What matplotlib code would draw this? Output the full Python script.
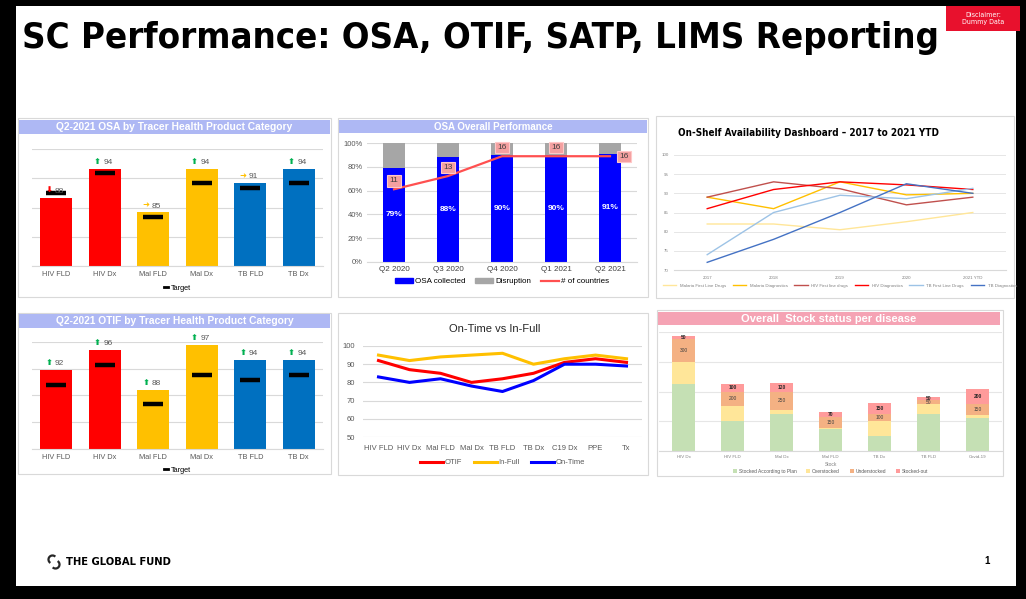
import matplotlib
matplotlib.use('Agg')
import matplotlib.pyplot as plt
from matplotlib import font_manager
from matplotlib.patches import Rectangle, Patch, Arc
from matplotlib.lines import Line2D
import numpy as np

plt.rcParams['font.family'] = ['Liberation Sans', 'DejaVu Sans']

W, H = 1026, 599

# ---- data ----
tracer_cats = ['HIV FLD', 'HIV Dx', 'Mal FLD', 'Mal Dx', 'TB FLD', 'TB Dx']
tracer_colors = ['#FF0000', '#FF0000', '#FFC000', '#FFC000', '#0070C0', '#0070C0']
osa_values = [88, 94, 85, 94, 91, 94]
osa_targets = [89, 93, 84, 91, 90, 91]
osa_trend = ['down', 'up', 'flat', 'up', 'flat', 'up']
otif_values = [92, 96, 88, 97, 94, 94]
otif_targets = [89, 93, 85, 91, 90, 91]
otif_trend = ['up', 'up', 'up', 'up', 'up', 'up']

quarters = ['Q2 2020', 'Q3 2020', 'Q4 2020', 'Q1 2021', 'Q2 2021']
osa_collected = [79, 88, 90, 90, 91]
n_countries = [11, 13, 16, 16, 16]

years = ['2017', '2018', '2019', '2020', '2021 YTD']
mal_fld = [82, 82, 80.5, 82.6, 85]
mal_dx = [89, 86, 93, 89.6, 90]
hiv_fld = [89, 93, 91.2, 87, 89]
hiv_dx = [86, 91, 93, 92.2, 91]
tb_fld = [74, 85, 89.5, 88.6, 91.3]
tb_dx = [72, 78, 85, 92.5, 90]
shelf_names = ['Malaria First Line Drugs', 'Malaria Diagnostics', 'HIV First line drugs',
               'HIV Diagnostics', 'TB First Line Drugs', 'TB Diagnostics']
shelf_colors = ['#FFE699', '#FFC000', '#C0504D', '#FF0000', '#9DC3E6', '#4472C4']

otif_cats = ['HIV FLD', 'HIV Dx', 'Mal FLD', 'Mal Dx', 'TB FLD', 'TB Dx', 'C19 Dx', 'PPE', 'Tx']
otif_line = [92, 87, 85, 80, 82, 85, 91, 93, 91]
infull_line = [95, 92, 94, 95, 96, 90, 93, 95, 93]
ontime_line = [83, 80, 82, 78, 75, 81, 90, 90, 89]

stock_cats = ['HIV Dx', 'HIV FLD', 'Mal Dx', 'Mal FLD', 'TB Dx', 'TB FLD', 'Covid-19']
stock_plan = [900, 400, 500, 300, 200, 500, 450]
stock_over = [300, 200, 50, 10, 200, 130, 30]
stock_under = [300, 200, 250, 150, 100, 50, 150]
stock_out = [50, 100, 120, 70, 150, 50, 200]

# condensed bold face for the headline, if one is installed
installed = {(f.name, f.stretch) for f in font_manager.fontManager.ttflist}
if ('DejaVu Sans', 'condensed') in installed:
    narrow = dict(family='DejaVu Sans', fontstretch='condensed')
else:
    narrow = dict(family=['Liberation Sans', 'DejaVu Sans'])


def rect(x0, y0, x1, y1):
    # pixel box -> figure fraction [l, b, w, h]
    return [x0 / W, 1 - y1 / H, (x1 - x0) / W, (y1 - y0) / H]


def fig_box(fig, x0, y0, x1, y1, fc, ec='none', lw=0, z=-1):
    r = Rectangle((x0 / W, 1 - y1 / H), (x1 - x0) / W, (y1 - y0) / H,
                  transform=fig.transFigure, facecolor=fc, edgecolor=ec, lw=lw, zorder=z)
    fig.add_artist(r)


def title_bar(fig, x0, y0, x1, y1, text, color, size=7.4):
    fig_box(fig, x0, y0, x1, y1, color, z=2)
    fig.text((x0 + x1) / 2 / W, 1 - (y0 + y1) / 2 / H, text, ha='center', va='center',
             color='white', fontsize=size, fontweight='bold', zorder=3)


fig = plt.figure(figsize=(W / 100, H / 100), dpi=100, facecolor='black')
fig_box(fig, 16, 6, 1016, 586, 'white', z=-3)

# title
fig.text(22 / W, 1 - 38 / H, 'SC Performance: OSA, OTIF, SATP, LIMS Reporting',
         fontweight='bold', fontsize=26.2, va='center', ha='left', **narrow)
fig_box(fig, 946, 6, 1020, 31, '#E8112D', z=2)
fig.text(983 / W, 1 - 18.5 / H, 'Disclaimer:\nDummy Data', color='white', fontsize=5,
         ha='center', va='center', linespacing=1.2, zorder=3, **narrow)

# panel frames
for b in [(18, 118, 331, 297), (338, 118, 648, 297), (656, 116, 1014, 298),
          (18, 313, 331, 474), (338, 313, 648, 475), (657, 310, 1003, 476)]:
    fig_box(fig, *b, 'white', ec='#D9D9D9', lw=0.8, z=-2)

arrow_sym = {'up': ('\u2B06', '#00B050'), 'down': ('\u2B07', '#FF0000'),
             'flat': ('\u279C', '#FFC000')}


def tracer_panel(ax, values, targets, trend, ylim):
    x = np.arange(len(tracer_cats))
    ax.bar(x, values, width=0.66, color=tracer_colors, zorder=2)
    ax.hlines(targets, x - 0.21, x + 0.21, color='black', lw=3.2, zorder=3)
    ax.set_xlim(-0.5, len(x) - 0.5)
    ax.set_ylim(*ylim)
    ax.set_yticks(np.linspace(ylim[0], ylim[1], 5))
    ax.set_yticklabels([])
    ax.tick_params(length=0)
    ax.grid(axis='y', color='#D9D9D9', lw=0.8)
    ax.set_axisbelow(True)
    for s in ['top', 'right', 'left']:
        ax.spines[s].set_visible(False)
    ax.spines['bottom'].set_color('#D9D9D9')
    ax.set_xticks(x, tracer_cats, fontsize=5.3, color='#595959')
    ax.patch.set_alpha(0)
    for xi, v, t in zip(x, values, trend):
        sym, col = arrow_sym[t]
        ax.annotate(sym, (xi - 0.15, v), xytext=(0, 2), textcoords='offset points',
                    ha='center', va='bottom', color=col, fontsize=6,
                    family='DejaVu Sans', fontweight='bold')
        ax.annotate(str(v), (xi + 0.07, v), xytext=(0, 2), textcoords='offset points',
                    ha='center', va='bottom', color='#595959', fontsize=6)
    ax.legend(handles=[Line2D([], [], color='black', lw=2)], labels=['Target'],
              loc='upper center', bbox_to_anchor=(0.5, -0.13), frameon=False,
              fontsize=5.3, handlelength=0.5, handletextpad=0.3, borderpad=0)


# top-left: OSA by tracer
title_bar(fig, 19, 120, 330, 134, 'Q2-2021 OSA by Tracer Health Product Category', '#AEB8F4')
ax1 = fig.add_axes(rect(32, 149, 323, 266))
tracer_panel(ax1, osa_values, osa_targets, osa_trend, (74, 98))

# bottom-left: OTIF by tracer
title_bar(fig, 19, 314, 330, 328, 'Q2-2021 OTIF by Tracer Health Product Category', '#AEB8F4')
ax4 = fig.add_axes(rect(32, 342, 323, 449))
tracer_panel(ax4, otif_values, otif_targets, otif_trend, (76, 97.6))

# top-middle: OSA overall
title_bar(fig, 339, 120, 647, 133, 'OSA Overall Performance', '#AEB8F4', size=7)
ax2 = fig.add_axes(rect(367, 143, 637, 262))
xq = np.arange(len(quarters))
disruption = [100 - v for v in osa_collected]
ax2.bar(xq, osa_collected, width=0.4, color='#0000FF', zorder=2, label='OSA collected')
ax2.bar(xq, disruption, bottom=osa_collected, width=0.4, color='#A6A6A6', zorder=2,
        label='Disruption')
for xi, v in zip(xq, osa_collected):
    ax2.text(xi, v / 2, f'{v}%', ha='center', va='center', color='white', fontsize=6,
             fontweight='bold', zorder=3)
ax2.set_ylim(0, 100)
ax2.set_xlim(-0.5, len(xq) - 0.5)
ax2.set_yticks(range(0, 101, 20), [f'{v}%' for v in range(0, 101, 20)], fontsize=5.5,
               color='#595959')
ax2.set_xticks(xq, quarters, fontsize=5.8, color='#404040')
ax2.tick_params(length=0, pad=3)
ax2.grid(axis='y', color='#D9D9D9', lw=0.8)
ax2.set_axisbelow(True)
for s in ['top', 'right', 'left']:
    ax2.spines[s].set_visible(False)
ax2.spines['bottom'].set_color('#D9D9D9')
ax2.patch.set_alpha(0)
ax2b = ax2.twinx()
ax2b.plot(xq, n_countries, color='#FF5050', lw=1.6, zorder=4)
ax2b.set_ylim(0, 18)
ax2b.set_yticks([])
for s in ax2b.spines.values():
    s.set_visible(False)
for i, (xi, v) in enumerate(zip(xq, n_countries)):
    off = (10, 0) if i == len(xq) - 1 else (0, 6)
    ax2b.annotate(str(v), (xi, v), xytext=off, textcoords='offset points', ha='center',
                  va='center', fontsize=6, color='#404040', zorder=5,
                  bbox=dict(boxstyle='square,pad=0.25', fc='#F4A0A0', ec='#FFC8C8', lw=0.8))
ax2.legend(handles=[Patch(color='#0000FF'), Patch(color='#A6A6A6'),
                    Line2D([], [], color='#FF5050', lw=1.6)],
           labels=['OSA collected', 'Disruption', '# of countries'], ncol=3,
           loc='upper center', bbox_to_anchor=(0.5, -0.1), frameon=False, fontsize=5.8,
           handlelength=2.2, handleheight=0.6, handletextpad=0.3, columnspacing=1.2,
           borderpad=0)

# top-right: on-shelf availability
fig.text(678 / W, 1 - 133 / H, 'On-Shelf Availability Dashboard \u2013 2017 to 2021 YTD',
         fontsize=7.1, fontweight='bold', va='center', ha='left', **narrow)
ax3 = fig.add_axes(rect(674, 155, 1006, 270))
xy = np.arange(len(years))
for series, name, col in zip([mal_fld, mal_dx, hiv_fld, hiv_dx, tb_fld, tb_dx],
                             shelf_names, shelf_colors):
    ax3.plot(xy, series, color=col, lw=1.0, label=name)
ax3.set_ylim(70, 100)
ax3.set_xlim(-0.5, len(xy) - 0.5)
ax3.set_yticks(range(70, 101, 5), [str(v) for v in range(70, 101, 5)], fontsize=3.2,
               color='#808080')
ax3.set_xticks(xy, years, fontsize=3.2, color='#808080')
ax3.tick_params(length=0, pad=4)
ax3.grid(axis='y', color='#E6E6E6', lw=0.7)
ax3.set_axisbelow(True)
for s in ['top', 'right', 'left']:
    ax3.spines[s].set_visible(False)
ax3.spines['bottom'].set_color('#D9D9D9')
ax3.patch.set_alpha(0)
ax3.legend(loc='upper center', bbox_to_anchor=(0.5, -0.1), ncol=6, frameon=False,
           fontsize=3.2, handlelength=3, columnspacing=1.5, labelcolor='#808080',
           borderpad=0)

# bottom-middle: on-time vs in-full
fig.text(495 / W, 1 - 329 / H, 'On-Time vs In-Full', fontsize=8, ha='center', va='center',
         color='#262626')
ax5 = fig.add_axes(rect(363, 346, 642, 437))
xo = np.arange(len(otif_cats))
ax5.plot(xo, otif_line, color='#FF0000', lw=2.2, label='OTIF')
ax5.plot(xo, infull_line, color='#FFC000', lw=2.2, label='In-Full')
ax5.plot(xo, ontime_line, color='#0000FF', lw=2.2, label='On-Time')
ax5.set_ylim(50, 100)
ax5.set_xlim(-0.5, len(xo) - 0.5)
ax5.set_yticks(range(50, 101, 10), [str(v) for v in range(50, 101, 10)], fontsize=5.5,
               color='#595959')
ax5.set_xticks(xo, otif_cats, fontsize=5.5, color='#595959')
ax5.tick_params(length=0, pad=6)
ax5.grid(axis='y', color='#D9D9D9', lw=0.8)
ax5.set_axisbelow(True)
for s in ['top', 'right', 'left', 'bottom']:
    ax5.spines[s].set_visible(False)
ax5.patch.set_alpha(0)
ax5.legend(loc='upper center', bbox_to_anchor=(0.5, -0.2), ncol=3, frameon=False,
           fontsize=5.5, handlelength=3, columnspacing=1.5, labelcolor='#595959',
           handletextpad=0.2, borderpad=0)

# bottom-right: stock status
fig_box(fig, 658, 312, 1000, 325, '#F5A3B4', z=2)
fig.text(829 / W, 1 - 318.5 / H, 'Overall  Stock status per disease', color='white',
         fontsize=8, fontweight='bold', ha='center', va='center', zorder=3)
ax6 = fig.add_axes(rect(659, 332, 1002, 451))
xs = np.arange(len(stock_cats))
b1 = np.array(stock_plan)
b2 = b1 + np.array(stock_over)
b3 = b2 + np.array(stock_under)
ax6.bar(xs, stock_plan, width=0.45, color='#C5E0B4', label='Stocked According to Plan',
        zorder=2)
ax6.bar(xs, stock_over, bottom=b1, width=0.45, color='#FFE699', label='Overstocked', zorder=2)
ax6.bar(xs, stock_under, bottom=b2, width=0.45, color='#F4B183', label='Understocked',
        zorder=2)
ax6.bar(xs, stock_out, bottom=b3, width=0.45, color='#FF9B9B', label='Stocked-out', zorder=2)
for xi, u, o, base2, base3 in zip(xs, stock_under, stock_out, b2, b3):
    ax6.text(xi, base2 + u / 2, str(u), ha='center', va='center', fontsize=3.5,
             color='#404040', zorder=3)
    ax6.text(xi, base3 + o / 2, str(o), ha='center', va='center', fontsize=3.5,
             color='#262626', fontweight='bold', zorder=3)
ax6.set_ylim(0, 1600)
ax6.set_xlim(-0.5, len(xs) - 0.5)
ax6.set_yticks(range(0, 1601, 400))
ax6.set_yticklabels([])
ax6.set_xticks(xs, stock_cats, fontsize=3.2, color='#808080')
ax6.set_xlabel('Stock', fontsize=3.5, color='#808080', labelpad=2)
ax6.tick_params(length=0, pad=3)
ax6.grid(axis='y', color='#E6E6E6', lw=0.8)
ax6.set_axisbelow(True)
for s in ['top', 'right', 'left']:
    ax6.spines[s].set_visible(False)
ax6.spines['bottom'].set_color('#D9D9D9')
ax6.patch.set_alpha(0)
ax6.legend(loc='upper center', bbox_to_anchor=(0.5, -0.13), ncol=4, frameon=False,
           fontsize=3.5, handlelength=0.8, handleheight=0.8, columnspacing=2,
           labelcolor='#595959', handletextpad=0.4, borderpad=0)

# footer: logo swirl + name + page number
for cx, cy, t1, t2 in [(52.5, 559.5, 60, 250), (55.5, 564.5, 240, 70)]:
    fig.add_artist(Arc((cx / W, 1 - cy / H), 8 / W, 8 / H, theta1=t1, theta2=t2,
                       transform=fig.transFigure, color='#262626', lw=1.6))
fig.text(66 / W, 1 - 562 / H, 'THE GLOBAL FUND', fontsize=8, fontweight='bold',
         ha='left', va='center', **narrow)
fig.text(987 / W, 1 - 561 / H, '1', fontsize=7, fontweight='bold', ha='center', va='center')

fig.savefig('out.png', dpi=100, facecolor='black')
